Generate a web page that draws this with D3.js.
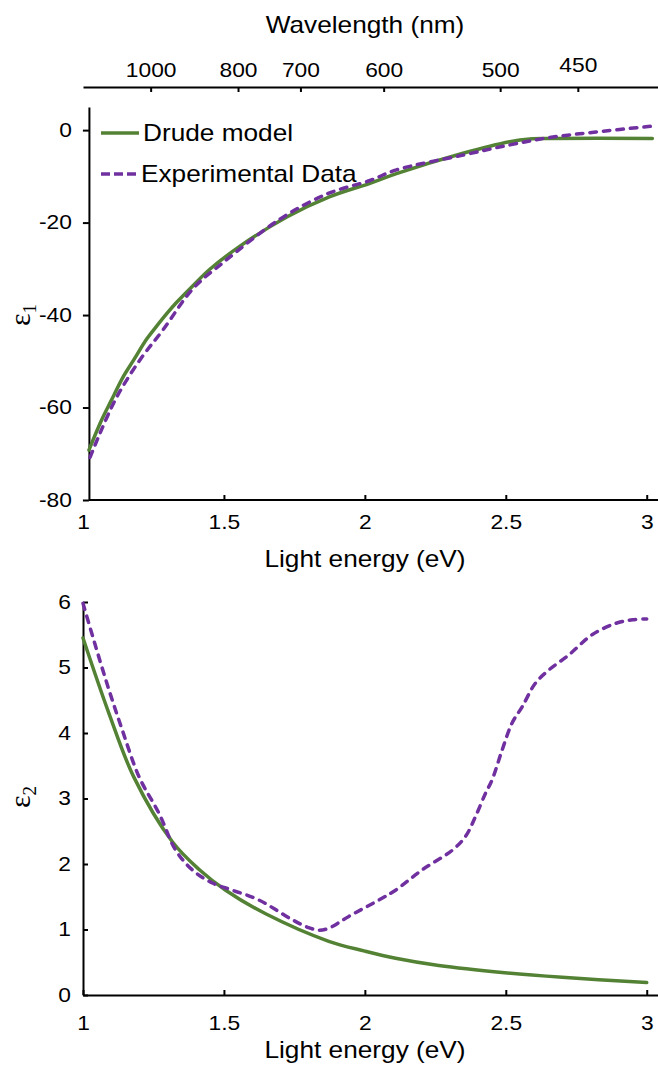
<!DOCTYPE html>
<html>
<head>
<meta charset="utf-8">
<script src="https://cdn.jsdelivr.net/npm/d3@7"></script>
<style>
  body { margin: 0; background: #fff; }
  text { font-family: "Liberation Sans", Arial, sans-serif; fill: #000; }
</style>
</head>
<body>
<svg id="chart" width="658" height="1066"></svg>
<script>
// tick labels
const energyTicks = [1, 1.5, 2, 2.5, 3];
const wavelengthTicks = [1000, 800, 700, 600, 500, 450];
const eps1Ticks = [-80, -60, -40, -20, 0];
const eps2Ticks = [0, 1, 2, 3, 4, 5, 6];

const eps1DrudeEnergy = [1.021, 1.066, 1.1, 1.143, 1.18, 1.226, 1.26, 1.297, 1.33, 1.391, 1.45, 1.557, 1.723, 1.876, 2.018, 2.112, 2.348, 2.514, 2.585, 2.656, 3.02];
const eps1Drude = [-69.2, -62.7, -58.5, -53.3, -49.7, -45.2, -42.5, -39.7, -37.4, -33.6, -30.1, -25.1, -18.8, -14.4, -11.5, -9.4, -5.0, -2.5, -1.9, -1.8, -1.8];
const eps1ExpEnergy = [1.025, 1.06, 1.12, 1.202, 1.284, 1.39, 1.5, 1.7, 1.87, 2.018, 2.112, 2.348, 2.514, 2.656, 2.82, 3.02];
const eps1Exp = [-70.8, -65.6, -57.7, -49.7, -43.2, -34.3, -28.5, -19.2, -13.7, -10.9, -8.6, -5.4, -3.2, -1.6, -0.4, 0.86];

// epsilon 2 (imaginary part)
const eps2DrudeEnergy = [1.0, 1.092, 1.18, 1.317, 1.411, 1.506, 1.648, 1.872, 2.0, 2.109, 2.262, 2.496, 2.7, 3.0];
const eps2Drude = [5.45, 4.30, 3.33, 2.34, 1.92, 1.60, 1.24, 0.82, 0.67, 0.56, 0.45, 0.34, 0.27, 0.19];
const eps2ExpEnergy = [1.0, 1.045, 1.092, 1.139, 1.199, 1.27, 1.329, 1.388, 1.459, 1.53, 1.624, 1.742, 1.80, 1.837, 1.872, 1.943, 2.05, 2.109, 2.203, 2.31, 2.357, 2.392, 2.428, 2.451, 2.487, 2.522, 2.558, 2.605, 2.652, 2.723, 2.806, 2.888, 2.95, 3.0];
const eps2Exp = [5.98, 5.32, 4.66, 4.05, 3.33, 2.77, 2.21, 1.91, 1.71, 1.60, 1.45, 1.15, 1.03, 0.99, 1.02, 1.20, 1.45, 1.60, 1.91, 2.21, 2.42, 2.72, 3.08, 3.28, 3.74, 4.15, 4.40, 4.76, 4.96, 5.19, 5.50, 5.67, 5.73, 5.74];

const seriesNames = ["Drude model", "Experimental Data"];

const green = "#548235";
const purple = "#7030a0";
const stretch = "scale(1.14,1)";

const svg = d3.select("#chart");

const x = d3.scaleLinear().domain([1, 3.04]).range([83, 658]);
const y1 = d3.scaleLinear().domain([-80, 5]).range([500, 107]);
const y2 = d3.scaleLinear().domain([0, 6]).range([995, 602]);

const plain = (d) => String(d);

function styleAxis(g) {
  g.selectAll("path, line").attr("stroke", "#000").attr("stroke-width", 2);
  g.selectAll("text").attr("font-size", 20).attr("transform", stretch);
}

function addTitle(xPos, yPos, str) {
  svg.append("text")
    .attr("transform", "translate(" + xPos + "," + yPos + ") " + stretch)
    .attr("text-anchor", "middle")
    .attr("font-size", 23)
    .text(str);
}

function addEpsLabel(xPos, yPos, sub) {
  const t = svg.append("text")
    .attr("transform", "translate(" + xPos + "," + yPos + ") rotate(-90)")
    .attr("text-anchor", "middle")
    .attr("font-size", 30)
    .style("font-family", "'Liberation Serif', serif");
  t.append("tspan").text("ε");
  t.append("tspan").attr("font-size", 19).attr("dy", 6).text(sub);
}

function drawLine(energy, values, yScale, color, dashed) {
  const line = d3.line()
    .x((d) => x(d[0]))
    .y((d) => yScale(d[1]))
    .curve(d3.curveCatmullRom.alpha(0.5));
  svg.append("path")
    .datum(d3.zip(energy, values))
    .attr("fill", "none")
    .attr("stroke", color)
    .attr("stroke-width", 3.5)
    .attr("stroke-linecap", "round")
    .attr("stroke-dasharray", dashed ? "6.5,7" : null)
    .attr("d", line);
}

// top wavelength axis (same energy scale, nm = 1240 / eV)
const topAxis = svg.append("g")
  .attr("transform", "translate(0,87)")
  .call(d3.axisTop(x)
    .tickValues(wavelengthTicks.map((w) => 1240 / w))
    .tickFormat((e, i) => wavelengthTicks[i])
    .tickSizeInner(-5).tickSizeOuter(0).tickPadding(10));
styleAxis(topAxis);
topAxis.selectAll(".tick text").filter((d, i) => wavelengthTicks[i] === 450).attr("dy", "-0.25em");
addTitle(365, 33, "Wavelength (nm)");

// upper panel: epsilon 1
const xAxisTop = svg.append("g")
  .attr("transform", "translate(0,500)")
  .call(d3.axisBottom(x).tickValues(energyTicks).tickFormat(plain).tickSizeInner(-5).tickSizeOuter(0).tickPadding(15));
xAxisTop.select(".domain").remove();
xAxisTop.selectAll(".tick").filter((d) => d === 1).select("line").remove();
styleAxis(xAxisTop);
svg.append("line")
  .attr("x1", x(1.021)).attr("x2", 658)
  .attr("y1", 500).attr("y2", 500)
  .attr("stroke", "#000").attr("stroke-width", 2);

const yAxisTop = svg.append("g")
  .attr("transform", "translate(" + x(1.021) + ",0)")
  .call(d3.axisLeft(y1).tickValues(eps1Ticks).tickFormat(plain).tickSizeInner(6).tickSizeOuter(0).tickPadding(9));
styleAxis(yAxisTop);

addTitle(365, 567, "Light energy (eV)");
addEpsLabel(30, 315, "1");

drawLine(eps1DrudeEnergy, eps1Drude, y1, green, false);
drawLine(eps1ExpEnergy, eps1Exp, y1, purple, true);

// legend
const legend = svg.append("g");
seriesNames.forEach((name, i) => {
  const ly = 133 + i * 41;
  legend.append("line")
    .attr("x1", 101).attr("x2", 139)
    .attr("y1", ly).attr("y2", ly)
    .attr("stroke", i === 0 ? green : purple)
    .attr("stroke-width", 3.5)
    .attr("stroke-dasharray", i === 0 ? null : "9,4");
  legend.append("text")
    .attr("transform", "translate(" + (i === 0 ? 143 : 141) + "," + ly + ") " + stretch)
    .attr("dy", "0.36em")
    .attr("font-size", 23)
    .text(name);
});

// lower panel: epsilon 2
const xAxisBottom = svg.append("g")
  .attr("transform", "translate(0,995)")
  .call(d3.axisBottom(x).tickValues(energyTicks).tickFormat(plain).tickSizeInner(-5).tickSizeOuter(0).tickPadding(21));
styleAxis(xAxisBottom);

const yAxisBottom = svg.append("g")
  .attr("transform", "translate(" + x(1) + ",0)")
  .call(d3.axisLeft(y2).tickValues(eps2Ticks).tickFormat(plain).tickSizeInner(-5).tickSizeOuter(0).tickPadding(10.5));
styleAxis(yAxisBottom);

addTitle(365, 1058, "Light energy (eV)");
addEpsLabel(30, 797, "2");

drawLine(eps2DrudeEnergy, eps2Drude, y2, green, false);
drawLine(eps2ExpEnergy, eps2Exp, y2, purple, true);
</script>
</body>
</html>
